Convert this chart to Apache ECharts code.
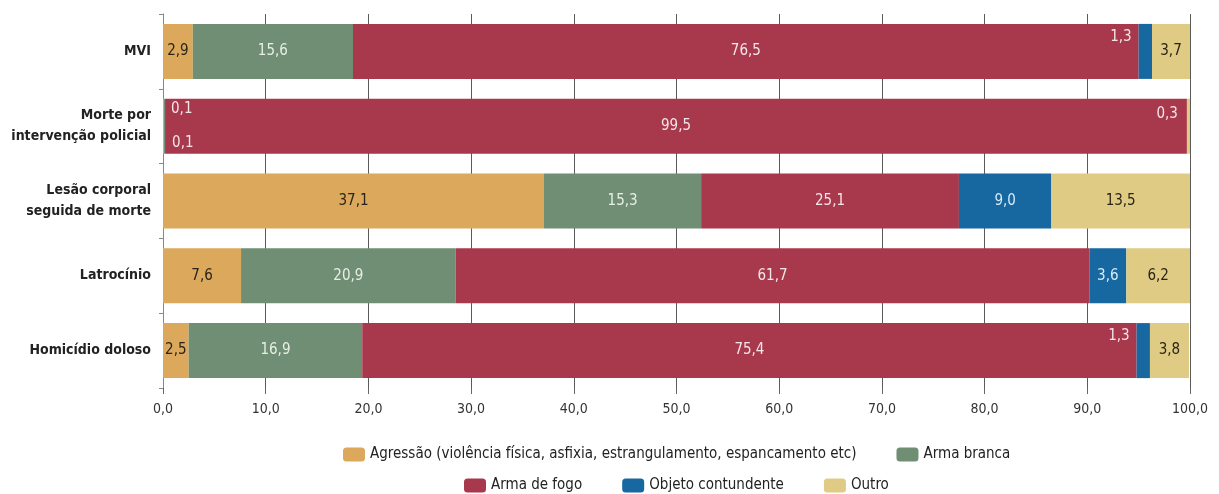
<!DOCTYPE html>
<html><head><meta charset="utf-8">
<script src="https://cdn.jsdelivr.net/npm/echarts@6/dist/echarts.min.js"></script>
<style>html,body{margin:0;padding:0;background:#fff}#c{width:1219px;height:494px}</style>
</head><body><div id="c"></div>
<script>
const categories = ['MVI', 'Morte por\nintervenção policial', 'Lesão corporal\nseguida de morte', 'Latrocínio', 'Homicídio doloso'];
const seriesNames = ['Agressão (violência física, asfixia, estrangulamento, espancamento etc)', 'Arma branca', 'Arma de fogo', 'Objeto contundente', 'Outro'];
const agressao = [2.9, 0.1, 37.1, 7.6, 2.5];
const armaBranca = [15.6, 0.1, 15.3, 20.9, 16.9];
const armaFogo = [76.5, 99.5, 25.1, 61.7, 75.4];
const objeto = [1.3, 0, 9.0, 3.6, 1.3];
const outro = [3.7, 0.3, 13.5, 6.2, 3.8];
const xTicks = [0, 10, 20, 30, 40, 50, 60, 70, 80, 90, 100];

const colors = ['#DBA85C', '#6F8E74', '#A8384C', '#1767A0', '#DFCB84'];
const labelColors = ['#2a2418', '#e8efe4', '#f4e6e8', '#d8ecf7', '#2a2418'];
const FONT = '"Liberation Sans Narrow", "DejaVu Sans Condensed", sans-serif';
const fmt = v => v.toFixed(1).replace('.', ',');

const special = {
  0: {1: {position: 'right', offset: [2, -17]}},
  1: {1: {position: 'right', offset: [2, 17]}},
  3: {0: {position: 'left', offset: [-2, -14]}, 1: {show: false}, 4: {position: 'left', offset: [-2, -14]}},
  4: {1: {position: 'left', offset: [-4, -12]}}
};

const allData = [agressao, armaBranca, armaFogo, objeto, outro];
const series = allData.map((arr, si) => ({
  name: seriesNames[si],
  type: 'bar',
  stack: 'total',
  barWidth: 55,
  itemStyle: {color: colors[si]},
  label: {show: true, position: 'inside', color: labelColors[si], fontFamily: FONT, fontSize: 15,
    formatter: p => fmt(p.value)},
  data: arr.map((v, ci) => {
    const o = {value: v};
    const sp = special[si] && special[si][ci];
    if (sp) {
      o.label = Object.assign({}, sp);
      if (si !== 4 || ci === 1) o.label.color = '#f4e6e8';
    }
    return o;
  })
}));

const plotCenter = 163 + (1219 - 163 - 29) / 2;
const chart = echarts.init(document.getElementById('c'));
const legendStyle = {itemWidth: 22, itemHeight: 14, itemGap: 40, textStyle: {fontFamily: FONT, fontSize: 15, color: '#222'}};
chart.setOption({
  animation: false,
  backgroundColor: '#fff',
  grid: {left: 163, right: 29, top: 14, bottom: 106},
  xAxis: {
    type: 'value', min: 0, max: 100, interval: 10,
    axisLine: {show: false},
    axisTick: {show: true, length: 6, lineStyle: {color: '#666'}},
    splitLine: {show: true, lineStyle: {color: '#5a5a5a', width: 1}},
    axisLabel: {formatter: v => fmt(v), color: '#333', fontFamily: FONT, fontSize: 14, margin: 14}
  },
  yAxis: {
    type: 'category', data: categories, inverse: true,
    axisLine: {show: true, lineStyle: {color: '#888'}},
    axisTick: {show: true, length: 4, lineStyle: {color: '#888'}},
    axisLabel: {color: '#222', fontFamily: FONT, fontSize: 14, fontWeight: 'bold', lineHeight: 21, margin: 12, align: 'right'}
  },
  legend: [
    Object.assign({data: [seriesNames[0], seriesNames[1]], top: 442, left: 'center'}, legendStyle),
    Object.assign({data: [seriesNames[2], seriesNames[3], seriesNames[4]], top: 473, left: 'center'}, legendStyle)
  ],
  series: series
});
// re-center legends on the plot area
const model = chart.getModel();
const opts = [0, 1].map(i => {
  const view = chart._componentsViews.find(v => v.__model && v.__model.mainType === 'legend' && v.__model.componentIndex === i);
  const w = view ? view.group.getBoundingRect().width : 0;
  return {left: Math.round(plotCenter - w / 2)};
});
chart.setOption({legend: opts});
</script></body></html>
